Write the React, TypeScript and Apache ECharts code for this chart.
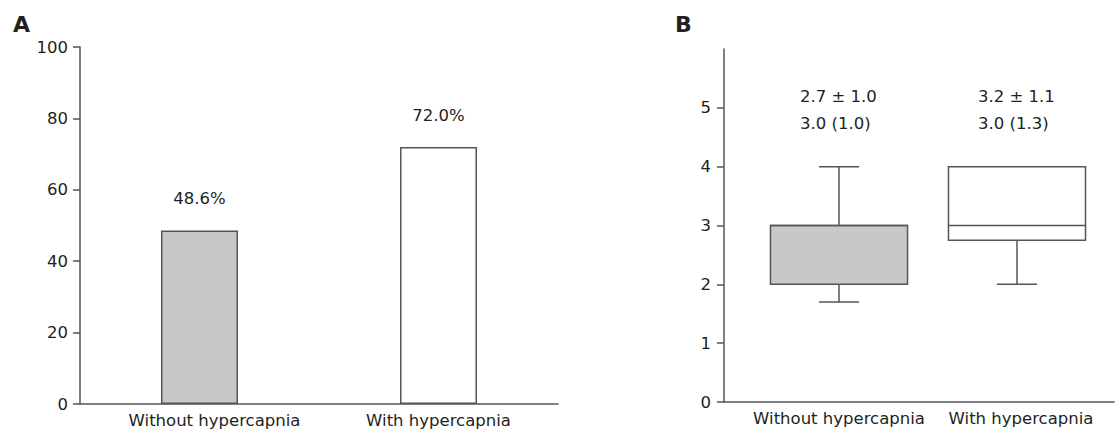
import React, { useEffect, useRef } from "react";
import * as echarts from "echarts";

const categories = ["Without hypercapnia", "With hypercapnia"];
const percentValues = [48.6, 72.0];
const barFills = ["#c8c8c8", "#ffffff"];
const yTicksA = [0, 20, 40, 60, 80, 100];

// box statistics: min, Q1, median, Q3, max
const boxMin = [1.7, 2.0];
const boxQ1 = [2.0, 2.75];
const boxMedian = [3.0, 3.0];
const boxQ3 = [3.0, 4.0];
const boxMax = [4.0, 4.0];
const meanSdLabels = ["2.7 ± 1.0", "3.2 ± 1.1"];
const medianIqrLabels = ["3.0 (1.0)", "3.0 (1.3)"];
const yTicksB = [0, 1, 2, 3, 4, 5];

const FONT = "'DejaVu Sans', Verdana, sans-serif";
const TEXT = "#231f20";
const LINE = "#555555";
const FS = 16.5;

export default function App() {
  const ref = useRef<HTMLDivElement>(null);
  useEffect(() => {
    document.body.style.margin = "0";
    const chart = echarts.init(ref.current!, undefined, { renderer: "svg" });
    const boxData = categories.map((_, i) => [i, boxMin[i], boxQ1[i], boxMedian[i], boxQ3[i], boxMax[i]]);
    const catA = categories.map((c, i) => (i === 0 ? { value: c, textStyle: { padding: [0, 0, 0, 30] } } : c));
    const catB = categories.map((c, i) => (i === 1 ? { value: c, textStyle: { padding: [0, 0, 0, 8] } } : c));
    chart.setOption({
      animation: false,
      backgroundColor: "#ffffff",
      textStyle: { fontFamily: FONT, color: TEXT },
      graphic: [
        { type: "text", left: 13, top: 13, style: { text: "A", font: `bold 22px ${FONT}`, fill: TEXT } },
        { type: "text", left: 675, top: 13, style: { text: "B", font: `bold 22px ${FONT}`, fill: TEXT } },
      ],
      grid: [
        { left: 80, top: 47, width: 478, height: 357 },
        { left: 750, top: 49, width: 356, height: 353 },
        { left: 724, top: 49, width: 390, height: 353 },
      ],
      xAxis: [
        {
          gridIndex: 0,
          type: "category",
          data: catA,
          axisLine: { lineStyle: { color: LINE, width: 1.5 } },
          axisTick: { show: false },
          axisLabel: { interval: 0, color: TEXT, fontSize: FS, fontFamily: FONT, margin: 8 },
        },
        {
          gridIndex: 1,
          type: "category",
          data: catB,
          axisLine: { show: false },
          axisTick: { show: false },
          axisLabel: { interval: 0, color: TEXT, fontSize: FS, fontFamily: FONT, margin: 8 },
        },
        {
          gridIndex: 2,
          type: "value",
          min: 0,
          max: 1,
          axisLine: { show: true, lineStyle: { color: LINE, width: 1.5 } },
          axisTick: { show: false },
          axisLabel: { show: false },
          splitLine: { show: false },
        },
      ],
      yAxis: [
        {
          gridIndex: 0,
          type: "value",
          min: 0,
          max: 100,
          interval: 20,
          axisLine: { show: true, lineStyle: { color: LINE, width: 1.5 } },
          axisTick: { show: true, length: 7, lineStyle: { color: LINE, width: 1.5 }, customValues: yTicksA },
          axisLabel: { color: TEXT, fontSize: FS, fontFamily: FONT, margin: 12, customValues: yTicksA },
          splitLine: { show: false },
        },
        {
          gridIndex: 1,
          type: "value",
          min: 0,
          max: 6,
          interval: 1,
          offset: 26,
          axisLine: { show: true, lineStyle: { color: LINE, width: 1.5 } },
          axisTick: { show: true, length: 7, lineStyle: { color: LINE, width: 1.5 }, customValues: yTicksB },
          axisLabel: { color: TEXT, fontSize: FS, fontFamily: FONT, margin: 13, customValues: yTicksB },
          splitLine: { show: false },
        },
        { gridIndex: 2, type: "value", show: false, min: 0, max: 1 },
      ],
      series: [
        {
          type: "bar",
          xAxisIndex: 0,
          yAxisIndex: 0,
          barWidth: 77,
          data: percentValues.map((v, i) => ({
            value: v,
            itemStyle: { color: barFills[i], borderColor: LINE, borderWidth: 1.5 },
          })),
          label: {
            show: true,
            position: "top",
            distance: 23,
            color: TEXT,
            fontSize: FS,
            fontFamily: FONT,
            formatter: (p: any) => `${Number(p.value).toFixed(1)}%`,
          },
        },
        {
          type: "custom",
          xAxisIndex: 1,
          yAxisIndex: 1,
          data: boxData,
          renderItem: (params: any, api: any) => {
            const idx = api.value(0);
            const vMin = api.value(1);
            const vQ1 = api.value(2);
            const vMed = api.value(3);
            const vQ3 = api.value(4);
            const vMax = api.value(5);
            const cx = api.coord([idx, vMed])[0];
            const yMin = api.coord([idx, vMin])[1];
            const yQ1 = api.coord([idx, vQ1])[1];
            const yMed = api.coord([idx, vMed])[1];
            const yQ3 = api.coord([idx, vQ3])[1];
            const yMax = api.coord([idx, vMax])[1];
            const yTop = api.coord([idx, 6])[1];
            const band = api.size([1, 0])[0];
            const bw = band * 0.77;
            const cw = band * 0.225;
            const ls = { stroke: LINE, lineWidth: 1.5 };
            const children: any[] = [];
            if (yMax < yQ3) {
              children.push({ type: "line", shape: { x1: cx, y1: yMax, x2: cx, y2: yQ3 }, style: ls });
              children.push({ type: "line", shape: { x1: cx - cw / 2, y1: yMax, x2: cx + cw / 2, y2: yMax }, style: ls });
            }
            if (yMin > yQ1) {
              children.push({ type: "line", shape: { x1: cx, y1: yQ1, x2: cx, y2: yMin }, style: ls });
              children.push({ type: "line", shape: { x1: cx - cw / 2, y1: yMin, x2: cx + cw / 2, y2: yMin }, style: ls });
            }
            children.push({
              type: "rect",
              shape: { x: cx - bw / 2, y: yQ3, width: bw, height: yQ1 - yQ3 },
              style: { fill: barFills[params.dataIndex], stroke: LINE, lineWidth: 1.5 },
            });
            children.push({ type: "line", shape: { x1: cx - bw / 2, y1: yMed, x2: cx + bw / 2, y2: yMed }, style: ls });
            children.push({
              type: "text",
              x: cx - 39,
              y: yTop + 47,
              style: {
                text: meanSdLabels[params.dataIndex],
                font: `${FS}px ${FONT}`,
                fill: TEXT,
                textAlign: "left",
                textVerticalAlign: "middle",
              },
            });
            children.push({
              type: "text",
              x: cx - 39,
              y: yTop + 74,
              style: {
                text: medianIqrLabels[params.dataIndex],
                font: `${FS}px ${FONT}`,
                fill: TEXT,
                textAlign: "left",
                textVerticalAlign: "middle",
              },
            });
            return { type: "group", children };
          },
        },
      ],
    });
    return () => chart.dispose();
  }, []);
  return <div ref={ref} style={{ width: 1116, height: 429 }} />;
}
